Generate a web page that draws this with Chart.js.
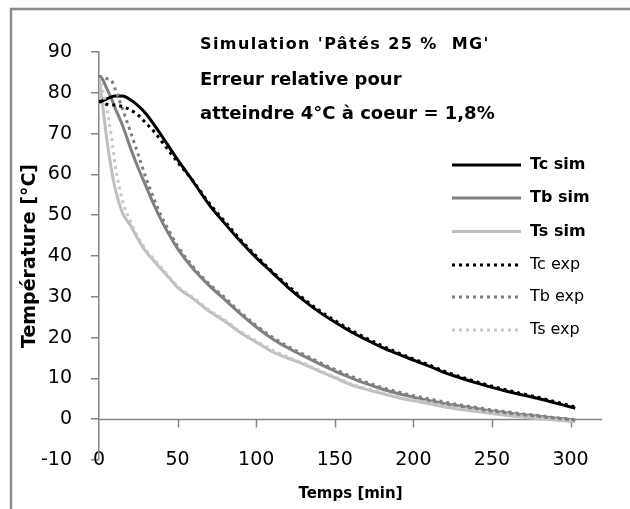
<!DOCTYPE html>
<html><head><meta charset="utf-8">
<script src="https://cdn.jsdelivr.net/npm/chart.js@4/dist/chart.umd.min.js"></script>
<style>html,body{margin:0;padding:0;background:#fff;}</style>
</head><body>
<canvas id="c" width="630" height="509"></canvas>
<script>
// ---- data ----
const times = [0,2,5,8,10,15,20,25,30,35,40,45,50,60,70,80,90,100,110,120,130,140,150,160,170,180,190,200,210,220,230,240,250,260,270,280,290,300,303];

const tcSim = [77.8,78.0,78.5,79.0,79.2,79.2,78.3,76.8,74.8,72.2,69.4,66.5,63.6,58.2,52.6,48.0,43.6,39.6,36.0,32.4,29.2,26.3,23.8,21.5,19.5,17.6,16.0,14.5,13.0,11.4,10.1,8.9,7.8,6.8,5.9,5.0,4.0,3.0,2.7];
const tbSim = [84.0,83.5,81.0,78.5,76.5,72.0,66.5,61.5,57.0,52.5,48.5,45.0,41.8,36.8,32.8,29.3,25.8,22.6,19.8,17.5,15.5,13.6,11.8,10.2,8.7,7.4,6.3,5.4,4.6,3.8,3.2,2.6,2.0,1.5,1.1,0.7,0.3,-0.1,-0.2];
const tsSim = [84.0,78.0,68.5,61.0,57.0,50.5,47.5,44.0,41.0,38.8,36.6,34.5,32.3,29.5,26.5,24.0,21.2,18.9,16.6,15.0,13.5,11.8,10.2,8.5,7.3,6.3,5.3,4.5,3.8,3.0,2.4,1.9,1.4,0.9,0.5,0.1,-0.2,-0.5,-0.6];
const tcExp = [78.0,77.6,77.2,77.0,77.0,76.6,75.8,74.5,72.5,70.5,68.0,65.5,63.0,58.3,53.0,48.5,44.0,40.0,36.3,32.8,29.6,26.7,24.2,21.9,19.9,18.0,16.3,14.8,13.3,11.7,10.4,9.2,8.1,7.1,6.2,5.3,4.3,3.3,3.0];
const tbExp = [84.0,84.0,83.5,83.0,81.2,76.0,70.5,64.8,59.0,54.0,49.5,45.8,42.5,37.3,33.2,29.8,26.2,23.0,20.2,17.9,15.9,14.0,12.2,10.6,9.1,7.8,6.7,5.8,5.0,4.2,3.5,2.9,2.3,1.8,1.3,0.9,0.4,0.0,-0.1];
const tsExp = [84.0,81.0,76.0,69.0,63.0,53.5,48.5,44.5,41.5,39.2,37.0,34.8,32.6,29.8,26.8,24.3,21.5,19.2,17.0,15.3,13.7,12.0,10.4,8.7,7.6,6.6,5.6,4.8,4.1,3.3,2.7,2.2,1.7,1.2,0.8,0.4,0.0,-0.3,-0.4];

const seriesLabels = ['Tc sim','Tb sim','Ts sim','Tc exp','Tb exp','Ts exp'];
const xTickValues = [0,50,100,150,200,250,300];
const yTickValues = [-10,0,10,20,30,40,50,60,70,80,90];
const annotationLines = ["Simulation 'Pâtés 25 %  MG'", "Erreur relative pour", "atteindre 4°C à coeur = 1,8%"];
const xTitle = 'Temps [min]';
const yTitle = 'Température [°C]';

// ---- build datasets ----
function pts(vals){ return times.map((t,i)=>({x:t,y:vals[i]})); }
const dark = '#000000', mid = '#808080', light = '#bfbfbf', lightExp = '#c8c8c8';
const datasets = [
  {label:seriesLabels[0], data:pts(tcSim), borderColor:dark, borderWidth:3, order:1},
  {label:seriesLabels[1], data:pts(tbSim), borderColor:mid, borderWidth:3, order:1},
  {label:seriesLabels[2], data:pts(tsSim), borderColor:light, borderWidth:3, order:1},
  {label:seriesLabels[3], data:pts(tcExp), borderColor:dark, borderWidth:3, borderDash:[3,4], order:0},
  {label:seriesLabels[4], data:pts(tbExp), borderColor:mid, borderWidth:3, borderDash:[3,4], order:0},
  {label:seriesLabels[5], data:pts(tsExp), borderColor:lightExp, borderWidth:3, borderDash:[3,4], order:0}
].map(d=>Object.assign({pointRadius:0, fill:false, cubicInterpolationMode:'monotone', borderCapStyle:'butt'}, d));

const axisColor = '#868686';

const decor = {
  id:'decor',
  beforeDraw(chart){
    // let the x tick labels sit slightly above the scale box without being clipped
    if (chart.scales.x) chart.scales.x._computeLabelArea = () => undefined;
    const ctx = chart.ctx;
    ctx.save();
    ctx.fillStyle = '#fff';
    ctx.fillRect(0,0,chart.width,chart.height);
    ctx.strokeStyle = '#8a8a8a';
    ctx.lineWidth = 2.5;
    ctx.beginPath();
    ctx.moveTo(11, chart.height+2);
    ctx.lineTo(11, 9);
    ctx.lineTo(chart.width+2, 9);
    ctx.stroke();
    ctx.restore();
  },
  beforeDatasetsDraw(chart){
    const {ctx, scales:{x,y}} = chart;
    const y0 = Math.round(y.getPixelForValue(0)) + 0.5;
    ctx.save();
    ctx.strokeStyle = axisColor;
    ctx.lineWidth = 1.5;
    ctx.beginPath();
    ctx.moveTo(x.getPixelForValue(x.min), y0);
    ctx.lineTo(x.getPixelForValue(x.max), y0);
    xTickValues.forEach(v=>{
      if (v === 0) return;
      const px = Math.round(x.getPixelForValue(v)) + 0.5;
      ctx.moveTo(px, y0);
      ctx.lineTo(px, y0 + 8);
    });
    ctx.stroke();
    ctx.restore();
  },
  afterDraw(chart){
    const ctx = chart.ctx;
    ctx.save();
    ctx.fillStyle = '#000';
    ctx.textBaseline = 'alphabetic';
    ctx.textAlign = 'left';
    ctx.font = 'bold 16px "DejaVu Sans"';
    ctx.letterSpacing = '1.4px';
    ctx.fillText(annotationLines[0], 200, 49);
    ctx.letterSpacing = '0px';
    ctx.font = 'bold 18px "DejaVu Sans"';
    ctx.fillText(annotationLines[1], 200, 85);
    ctx.fillText(annotationLines[2], 200, 119);

    // legend
    const rowY = [165,198,231.5,265,297,330];
    chart.data.datasets.forEach((ds,i)=>{
      const yy = rowY[i];
      ctx.save();
      ctx.strokeStyle = ds.borderColor;
      ctx.lineWidth = ds.borderWidth;
      ctx.setLineDash(ds.borderDash || []);
      ctx.beginPath();
      ctx.moveTo(452, yy);
      ctx.lineTo(521, yy);
      ctx.stroke();
      ctx.restore();
      ctx.font = (i < 3 ? 'bold ' : '') + '16px "DejaVu Sans"';
      ctx.textBaseline = 'middle';
      ctx.fillStyle = '#000';
      ctx.fillText(ds.label, 530, yy);
    });
    ctx.restore();
  }
};

new Chart(document.getElementById('c').getContext('2d'), {
  type:'line',
  data:{datasets},
  options:{
    responsive:false,
    animation:false,
    devicePixelRatio:1,
    layout:{padding:{top:52,right:28,left:0,bottom:0}},
    plugins:{legend:{display:false}, tooltip:{enabled:false}},
    scales:{
      x:{
        type:'linear', min:0, max:320,
        afterBuildTicks:s=>{ s.ticks = xTickValues.map(v=>({value:v})); },
        afterFit:s=>{ s.height = 49; },
        grid:{display:false, drawTicks:false},
        border:{display:false},
        ticks:{padding:-11, color:'#000', font:{family:'DejaVu Sans', size:19}},
        title:{display:true, text:xTitle, color:'#000', font:{family:'DejaVu Sans', size:15, weight:'bold'}, padding:{top:6,bottom:6}}
      },
      y:{
        type:'linear', min:-10, max:90,
        afterBuildTicks:s=>{ s.ticks = yTickValues.map(v=>({value:v})); },
        afterFit:s=>{ s.width = 99; },
        grid:{drawOnChartArea:false, drawTicks:true, tickLength:8, color:axisColor, lineWidth:1.5},
        border:{display:true, color:axisColor, width:1.5},
        ticks:{padding:19, color:'#000', font:{family:'DejaVu Sans', size:19}},
        title:{display:true, text:yTitle, color:'#000', font:{family:'DejaVu Sans', size:19, weight:'bold'}, padding:{top:19,bottom:19}}
      }
    }
  },
  plugins:[decor]
});
</script>
</body></html>
